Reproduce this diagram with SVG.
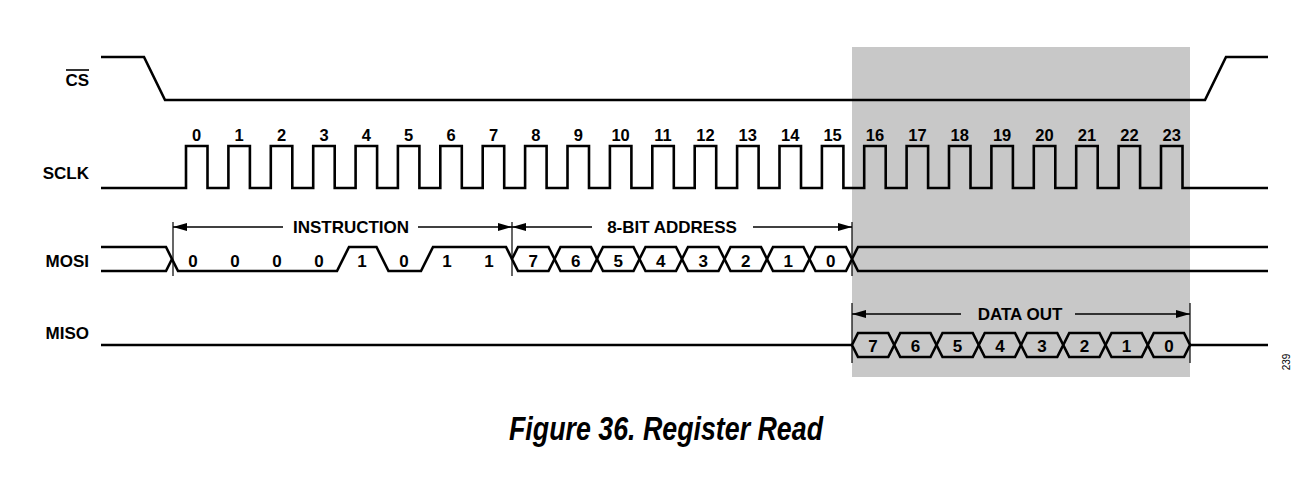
<svg xmlns="http://www.w3.org/2000/svg" width="1308" height="480" viewBox="0 0 1308 480">
<style>
.w{fill:none;stroke:#000;stroke-width:2.6;stroke-linejoin:miter}
.t{font-family:"Liberation Sans",Arial,sans-serif;font-weight:bold;fill:#000}
.sig{font-size:17px;text-anchor:end}
.clk{font-size:16.5px;text-anchor:middle}
.bit{font-size:17px;text-anchor:middle}
.dim{font-size:17px;text-anchor:middle}
.tick{stroke:#000;stroke-width:1.2}
.arr{stroke:#000;stroke-width:1.6;fill:none}
</style>
<defs>
<marker id="ah" viewBox="0 0 14 8" refX="14" refY="4" markerWidth="14" markerHeight="8" markerUnits="userSpaceOnUse" orient="auto">
<path d="M0,0 L14,4 L0,8 Z" fill="#000"/>
</marker>
</defs>
<rect width="1308" height="480" fill="#fff"/>
<rect id="shade" x="852" y="47" width="338" height="330" fill="#c8c8c8"/>

<g id="cs">
<text class="t sig" x="89" y="86">CS</text>
<line x1="66" y1="70" x2="89" y2="70" stroke="#000" stroke-width="1.6"/>
<path class="w" d="M101,57 H144 L165,100 H1205 L1226,57 H1268"/>
</g>

<g id="sclk">
<text class="t sig" x="89" y="179">SCLK</text>
<path class="w" d="M101,188 H186 V146 H207.5 V188 H228.4 V146 H249.9 V188 H270.8 V146 H292.3 V188 H313.2 V146 H334.7 V188 H355.6 V146 H377.1 V188 H397.9 V146 H419.4 V188 H440.3 V146 H461.8 V188 H482.7 V146 H504.2 V188 H525.1 V146 H546.6 V188 H567.5 V146 H589 V188 H609.9 V146 H631.4 V188 H652.3 V146 H673.8 V188 H694.7 V146 H716.2 V188 H737.1 V146 H758.6 V188 H779.5 V146 H801 V188 H821.9 V146 H843.4 V188 H864.2 V146 H885.7 V188 H906.6 V146 H928.1 V188 H949 V146 H970.5 V188 H991.4 V146 H1012.9 V188 H1033.8 V146 H1055.3 V188 H1076.2 V146 H1097.7 V188 H1118.6 V146 H1140.1 V188 H1161 V146 H1182.5 V188 H1268"/>
<g class="t clk">
<text x="196.7" y="141">0</text><text x="239.1" y="141">1</text><text x="281.5" y="141">2</text><text x="324" y="141">3</text>
<text x="366.3" y="141">4</text><text x="408.7" y="141">5</text><text x="451" y="141">6</text><text x="493.5" y="141">7</text>
<text x="535.9" y="141">8</text><text x="578.3" y="141">9</text><text x="620.6" y="141">10</text><text x="663" y="141">11</text>
<text x="705.4" y="141">12</text><text x="747.8" y="141">13</text><text x="790.2" y="141">14</text><text x="832.6" y="141">15</text>
<text x="875" y="141">16</text><text x="917.4" y="141">17</text><text x="959.8" y="141">18</text><text x="1002.1" y="141">19</text>
<text x="1044.5" y="141">20</text><text x="1087" y="141">21</text><text x="1129.4" y="141">22</text><text x="1171.8" y="141">23</text>
</g>
</g>

<g id="mosi">
<text class="t sig" x="89" y="267">MOSI</text>
<path class="w" d="M101,247 H166 L178,271 H337 L349,247 H376.5 L388.5,271 H421 L433,247 H506 L512,259"/>
<path class="w" d="M101,271 H166 L172,259"/>
<g class="w">
<path d="M512,259 L518,247 H548.5 L554.5,259 L548.5,271 H518 Z"/>
<path d="M554.5,259 L560.5,247 H591 L597,259 L591,271 H560.5 Z"/>
<path d="M597,259 L603,247 H633.5 L639.5,259 L633.5,271 H603 Z"/>
<path d="M639.5,259 L645.5,247 H676 L682,259 L676,271 H645.5 Z"/>
<path d="M682,259 L688,247 H718.5 L724.5,259 L718.5,271 H688 Z"/>
<path d="M724.5,259 L730.5,247 H761 L767,259 L761,271 H730.5 Z"/>
<path d="M767,259 L773,247 H803.5 L809.5,259 L803.5,271 H773 Z"/>
<path d="M809.5,259 L815.5,247 H846 L852,259 L846,271 H815.5 Z"/>
<path d="M852,259 L858,247 H1268 M852,259 L858,271 H1268"/>
</g>
<g class="t bit">
<text x="193" y="267">0</text><text x="235" y="267">0</text><text x="277" y="267">0</text><text x="319" y="267">0</text>
<text x="362" y="267">1</text><text x="404" y="267">0</text><text x="447" y="267">1</text><text x="489" y="267">1</text>
<text x="533.2" y="267">7</text><text x="575.7" y="267">6</text><text x="618.2" y="267">5</text><text x="660.7" y="267">4</text>
<text x="703.2" y="267">3</text><text x="745.7" y="267">2</text><text x="788.2" y="267">1</text><text x="830.7" y="267">0</text>
</g>
</g>

<g id="miso">
<text class="t sig" x="89" y="339">MISO</text>
<path class="w" d="M101,345 H852 M1190,345 H1268"/>
<g class="w">
<path d="M852,345 L858,333 H888.25 L894.25,345 L888.25,357 H858 Z"/>
<path d="M894.25,345 L900.25,333 H930.5 L936.5,345 L930.5,357 H900.25 Z"/>
<path d="M936.5,345 L942.5,333 H972.75 L978.75,345 L972.75,357 H942.5 Z"/>
<path d="M978.75,345 L984.75,333 H1015 L1021,345 L1015,357 H984.75 Z"/>
<path d="M1021,345 L1027,333 H1057.25 L1063.25,345 L1057.25,357 H1027 Z"/>
<path d="M1063.25,345 L1069.25,333 H1099.5 L1105.5,345 L1099.5,357 H1069.25 Z"/>
<path d="M1105.5,345 L1111.5,333 H1141.75 L1147.75,345 L1141.75,357 H1111.5 Z"/>
<path d="M1147.75,345 L1153.75,333 H1184 L1190,345 L1184,357 H1153.75 Z"/>
</g>
<g class="t bit">
<text x="873.1" y="352">7</text><text x="915.4" y="352">6</text><text x="957.6" y="352">5</text><text x="999.9" y="352">4</text>
<text x="1042.1" y="352">3</text><text x="1084.4" y="352">2</text><text x="1126.6" y="352">1</text><text x="1168.9" y="352">0</text>
</g>
</g>

<g id="connectors">
<line class="tick" x1="173" y1="222" x2="173" y2="276"/>
<line class="tick" x1="512" y1="222" x2="512" y2="276"/>
<line class="tick" x1="852" y1="222" x2="852" y2="276"/>
<line class="tick" x1="852" y1="303" x2="852" y2="363"/>
<line class="tick" x1="1190" y1="303" x2="1190" y2="363"/>
<path class="arr" d="M283,227 H173" marker-end="url(#ah)"/>
<path class="arr" d="M418,227 H512" marker-end="url(#ah)"/>
<path class="arr" d="M592,227 H512" marker-end="url(#ah)"/>
<path class="arr" d="M753,227 H852" marker-end="url(#ah)"/>
<path class="arr" d="M961,314 H852" marker-end="url(#ah)"/>
<path class="arr" d="M1075,314 H1190" marker-end="url(#ah)"/>
</g>

<g id="labels" class="t dim">
<text x="351" y="233">INSTRUCTION</text>
<text x="672" y="233">8-BIT ADDRESS</text>
<text x="1020" y="320">DATA OUT</text>
</g>

<text x="1290" y="362" font-family="Liberation Sans, Arial, sans-serif" font-size="10" text-anchor="middle" transform="rotate(-90 1290 362)">239</text>
<text x="666" y="440" font-family="Liberation Sans, Arial, sans-serif" font-size="34" font-weight="bold" font-style="italic" text-anchor="middle" textLength="314" lengthAdjust="spacingAndGlyphs">Figure 36. Register Read</text>
</svg>
